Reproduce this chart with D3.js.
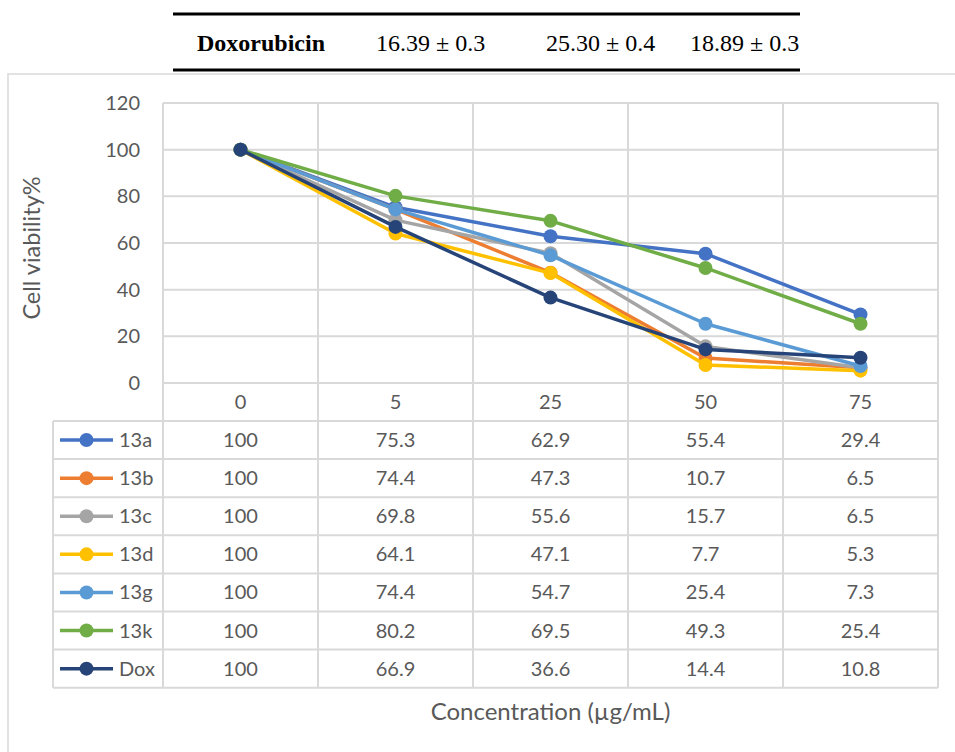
<!DOCTYPE html>
<html>
<head>
<meta charset="utf-8">
<script src="https://cdn.jsdelivr.net/npm/d3@7"></script>
<style>
  body { margin: 0; background: #fff; }
  svg { display: block; }
</style>
</head>
<body>
<div id="chart"></div>
<script>
// header row of the table above the chart
var headerLabel = "Doxorubicin",
  headerValues = ["16.39 ± 0.3", "25.30 ± 0.4", "18.89 ± 0.3"];

// chart data
var concentrations = ["0", "5", "25", "50", "75"];
var seriesNames = ["13a", "13b", "13c", "13d", "13g", "13k", "Dox"];
var v13a = [100, 75.3, 62.9, 55.4, 29.4],
  v13b = [100, 74.4, 47.3, 10.7, 6.5],
  v13c = [100, 69.8, 55.6, 15.7, 6.5],
  v13d = [100, 64.1, 47.1, 7.7, 5.3],
  v13g = [100, 74.4, 54.7, 25.4, 7.3],
  v13k = [100, 80.2, 69.5, 49.3, 25.4],
  vDox = [100, 66.9, 36.6, 14.4, 10.8];
var seriesColors = ["#4472C4", "#ED7D31", "#A5A5A5", "#FFC000", "#5B9BD5", "#70AD47", "#264478"];
var yTicks = [0, 20, 40, 60, 80, 100, 120];

var series = seriesNames.map(function(name, i) {
  return {name: name, values: [v13a, v13b, v13c, v13d, v13g, v13k, vDox][i], color: seriesColors[i]};
});

var W = 955, H = 752;
var plot = {left: 163, right: 938, top: 103, bottom: 383};
var tableLeft = 53, rowH = 38.1, catRowBottom = 421;
var font = "Lato, 'Open Sans', sans-serif",
  textColor = "#595959",
  gridColor = "#d9d9d9";

var svg = d3.select("#chart").append("svg")
  .attr("width", W)
  .attr("height", H);

// header table fragment
var header = svg.append("g");
header.append("line")
  .attr("x1", 173).attr("x2", 800).attr("y1", 14).attr("y2", 14)
  .attr("stroke", "#000").attr("stroke-width", 3);
header.append("line")
  .attr("x1", 173).attr("x2", 800).attr("y1", 70).attr("y2", 70)
  .attr("stroke", "#000").attr("stroke-width", 3);
header.append("text")
  .attr("x", 197).attr("y", 51)
  .style("font-family", "'Liberation Serif', 'Times New Roman', serif")
  .style("font-size", "24px")
  .style("font-weight", "bold")
  .text(headerLabel);
var headerX = [376, 546, 690];
header.selectAll("text.hv")
  .data(headerValues)
  .enter().append("text")
  .attr("class", "hv")
  .attr("x", function(d, i) { return headerX[i]; })
  .attr("y", 51)
  .style("font-family", "'Liberation Serif', 'Times New Roman', serif")
  .style("font-size", "24px")
  .text(function(d) { return d; });

// chart area border (runs off the page to the right and bottom)
svg.append("rect")
  .attr("x", 8).attr("y", 74)
  .attr("width", 980).attr("height", 720)
  .attr("fill", "none")
  .attr("stroke", gridColor)
  .attr("stroke-width", 1.5);

// scales
var xScale = d3.scaleBand().domain(concentrations).range([plot.left, plot.right]).padding(0);
var xMid = function(c) { return xScale(c) + xScale.bandwidth() / 2; };
var yScale = d3.scaleLinear().domain([0, 120]).range([plot.bottom, plot.top]);

var tableBottom = catRowBottom + rowH * series.length;

// horizontal gridlines
svg.selectAll("line.hgrid")
  .data(yTicks)
  .enter().append("line")
  .attr("class", "hgrid")
  .attr("x1", plot.left).attr("x2", plot.right)
  .attr("y1", function(d) { return yScale(d); })
  .attr("y2", function(d) { return yScale(d); })
  .attr("stroke", gridColor).attr("stroke-width", 2);

// vertical gridlines through plot and data table
var vEdges = concentrations.map(function(c) { return xScale(c); }).concat([plot.right]);
svg.selectAll("line.vgrid")
  .data(vEdges)
  .enter().append("line")
  .attr("class", "vgrid")
  .attr("x1", function(d) { return d; }).attr("x2", function(d) { return d; })
  .attr("y1", plot.top).attr("y2", tableBottom)
  .attr("stroke", gridColor).attr("stroke-width", 2);

// table row lines
var rowEdges = d3.range(series.length + 1).map(function(i) { return catRowBottom + i * rowH; });
svg.selectAll("line.row")
  .data(rowEdges)
  .enter().append("line")
  .attr("class", "row")
  .attr("x1", tableLeft).attr("x2", plot.right)
  .attr("y1", function(d) { return d; }).attr("y2", function(d) { return d; })
  .attr("stroke", gridColor).attr("stroke-width", 2);
svg.append("line")
  .attr("x1", tableLeft).attr("x2", tableLeft)
  .attr("y1", catRowBottom).attr("y2", tableBottom)
  .attr("stroke", gridColor).attr("stroke-width", 2);

// y axis tick labels
svg.selectAll("text.ytick")
  .data(yTicks)
  .enter().append("text")
  .attr("class", "ytick")
  .attr("x", 140)
  .attr("y", function(d) { return yScale(d); })
  .attr("dy", "0.35em")
  .attr("text-anchor", "end")
  .style("font-family", font).style("font-size", "20px").style("fill", textColor)
  .text(function(d) { return d; });

// category labels
svg.selectAll("text.cat")
  .data(concentrations)
  .enter().append("text")
  .attr("class", "cat")
  .attr("x", xMid)
  .attr("y", (plot.bottom + catRowBottom) / 2)
  .attr("dy", "0.35em")
  .attr("text-anchor", "middle")
  .style("font-family", font).style("font-size", "20px").style("fill", textColor)
  .text(function(d) { return d; });

// axis titles
svg.append("text")
  .attr("transform", "translate(40,248) rotate(-90)")
  .attr("text-anchor", "middle")
  .style("font-family", font).style("font-size", "23.5px").style("fill", textColor)
  .text("Cell viability%");
svg.append("text")
  .attr("x", (plot.left + plot.right) / 2)
  .attr("y", 720)
  .attr("text-anchor", "middle")
  .style("font-family", font).style("font-size", "24px").style("fill", textColor)
  .text("Concentration (µg/mL)");

// lines and markers
var line = d3.line()
  .x(function(d, i) { return xMid(concentrations[i]); })
  .y(function(d) { return yScale(d); });

var gSeries = svg.selectAll("g.series")
  .data(series)
  .enter().append("g")
  .attr("class", "series");
gSeries.append("path")
  .attr("d", function(d) { return line(d.values); })
  .attr("fill", "none")
  .attr("stroke", function(d) { return d.color; })
  .attr("stroke-width", 3.5)
  .attr("stroke-linejoin", "round");
gSeries.selectAll("circle")
  .data(function(d) { return d.values.map(function(v, i) { return {v: v, i: i, color: d.color}; }); })
  .enter().append("circle")
  .attr("cx", function(d) { return xMid(concentrations[d.i]); })
  .attr("cy", function(d) { return yScale(d.v); })
  .attr("r", 7)
  .attr("fill", function(d) { return d.color; });

// data table rows
var rows = svg.selectAll("g.trow")
  .data(series)
  .enter().append("g")
  .attr("class", "trow")
  .attr("transform", function(d, i) { return "translate(0," + (catRowBottom + (i + 0.5) * rowH) + ")"; });
rows.append("line")
  .attr("x1", 60).attr("x2", 113).attr("y1", 0).attr("y2", 0)
  .attr("stroke", function(d) { return d.color; })
  .attr("stroke-width", 3.5);
rows.append("circle")
  .attr("cx", 86.5).attr("cy", 0).attr("r", 7)
  .attr("fill", function(d) { return d.color; });
rows.append("text")
  .attr("x", 119).attr("dy", "0.35em")
  .style("font-family", font).style("font-size", "20px").style("fill", textColor)
  .text(function(d) { return d.name; });
rows.selectAll("text.val")
  .data(function(d) { return d.values; })
  .enter().append("text")
  .attr("class", "val")
  .attr("x", function(d, i) { return xMid(concentrations[i]); })
  .attr("dy", "0.35em")
  .attr("text-anchor", "middle")
  .style("font-family", font).style("font-size", "20px").style("fill", textColor)
  .text(function(d) { return d; });
</script>
</body>
</html>
